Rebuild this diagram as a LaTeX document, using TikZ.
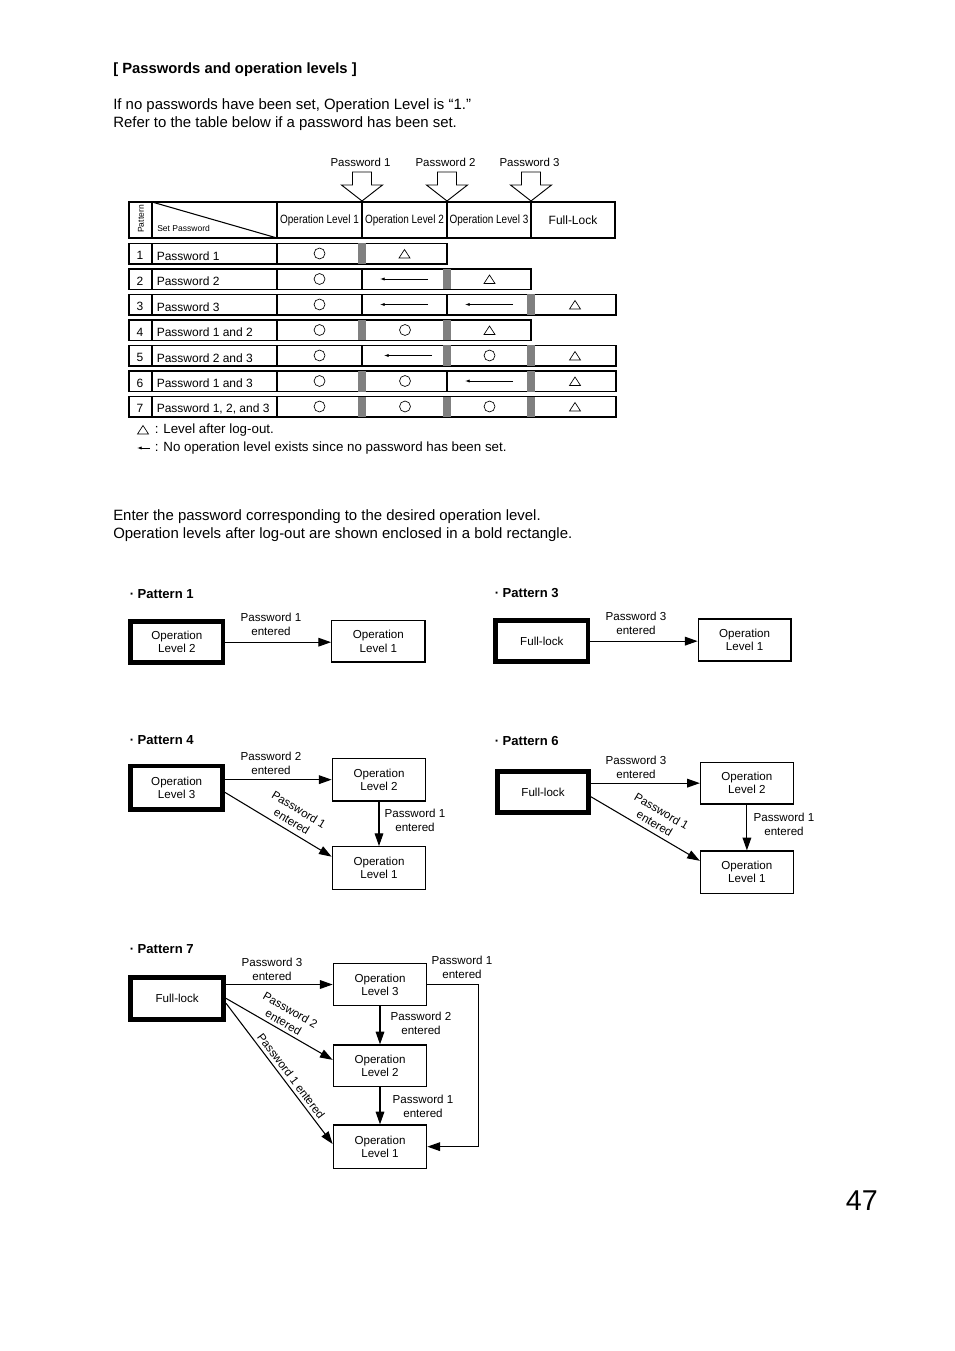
\documentclass[tikz,border=0pt]{standalone}
\usepackage{fontspec}
\setmainfont{Liberation Sans}
\usetikzlibrary{arrows.meta,calc}
\newcommand\myfb{\fontsize{11.2pt}{13.5pt}\selectfont}
\newcommand\myft{\fontsize{9pt}{11pt}\selectfont}
\newcommand\myfd{\fontsize{8.7pt}{10.4pt}\selectfont}
\newcommand\myfx{\fontsize{8.7pt}{9.9pt}\selectfont}
\newcommand\myfp{\bfseries\fontsize{9.8pt}{12pt}\selectfont}
\newcommand\myfs{\fontsize{6.4pt}{7.5pt}\selectfont}
\newcommand\myfn{\fontsize{10pt}{11pt}\selectfont}
\begin{document}
\begin{tikzpicture}[x=0.75pt,y=-0.75pt,
  tline/.style={line width=0.8pt},
  sym/.style={line width=0.5pt},
  sz/.style n args={2}{minimum width=#1*0.75pt, minimum height=#2*0.75pt},
  tbox/.style={draw, line width=1pt, inner sep=0pt, align=center, font=\myfx},
  bbox/.style={draw, line width=3.5pt, inner sep=0pt, align=center, font=\myfx},
  arr/.style={line width=0.8pt, -{Triangle[length=9.5pt,width=6.5pt]}},
  lbl/.style={font=\myfd, align=center, inner sep=1pt},
  pat/.style={font=\myfp, anchor=base west, inner sep=0pt},
  body/.style={font=\myfb, anchor=base west, inner sep=0pt}]
\useasboundingbox[fill=white] (0,0) rectangle (954,1351);

% ---------- texts ----------
\node[font=\bfseries\fontsize{11.1pt}{13pt}\selectfont, anchor=base west, inner sep=0pt] (title) at (113,74) {[ Passwords and operation levels ]};
\node[body] (t1) at (113,110) {If no passwords have been set, Operation Level is “1.”};
\node[body] (t2) at (113,128) {Refer to the table below if a password has been set.};
\node[body] (t3) at (113,520) {Enter the password corresponding to the desired operation level.};
\node[body] (t4) at (113,538) {Operation levels after log-out are shown enclosed in a bold rectangle.};
\node[font=\fontsize{21.5pt}{24pt}\selectfont, anchor=base east, inner sep=0pt] (pg) at (878,1210) {47};

% ---------- table header ----------
\foreach \cx/\t in {362/1,447/2,531/3}{
  \draw[line width=0.7pt, fill=white] (\cx-9.5,172) -- (\cx+9.5,172) -- (\cx+9.5,185) -- (\cx+20.5,185) -- (\cx,201) -- (\cx-20.5,185) -- (\cx-9.5,185) -- cycle;
  \node[font=\fontsize{8.6pt}{10pt}\selectfont] (hp\t) at (\cx-1.5,162) {Password \t};
}
\draw[tline] (129,202) rectangle (615,238);
\foreach \x in {152,277,362,447,531} \draw[tline] (\x,202) -- (\x,238);
\draw[tline] (152,202) -- (277,238);
\node[font=\myfs, rotate=90] (hpat) at (141,219) {Pattern};
\node[font=\myfs, anchor=base west, inner sep=0pt] (hset) at (157,231.5) {Set Password};
\node[font=\myft] (hl1) at (319.5,220) {\scalebox{0.83}[1]{Operation Level 1}};
\node[font=\myft] (hl2) at (404.5,220) {\scalebox{0.83}[1]{Operation Level 2}};
\node[font=\myft] (hl3) at (489,220) {\scalebox{0.83}[1]{Operation Level 3}};
\node[font=\myft] (hfl) at (573,220) {Full-Lock};

% ---------- table rows ----------
\newcommand\trow[4]{%
  \draw[tline] (129,#1) rectangle (#2,#1+20.5);
  \draw[tline] (152,#1) -- (152,#1+20.5);
  \draw[tline] (277,#1) -- (277,#1+20.5);
  \node[font=\myft] (rn#3) at (140,#1+12) {#3};
  \node[font=\myft, anchor=west, inner sep=0pt] (rt#3) at (156.5,#1+12.3) {#4};}
\newcommand\tcirc[2]{\draw[sym] (#1,#2) circle[radius=4.1pt];}
\newcommand\ttri[2]{\draw[sym] (#1-5.5,#2+4) -- (#1+5.5,#2+4) -- (#1,#2-4.5) -- cycle;}
\newcommand\tarr[2]{\draw[line width=0.6pt,-{Latex[length=3.5pt,width=2.4pt]}] (#1+24,#2) -- (#1-24,#2);}
\newcommand\tbar[2]{\fill[black!50] (#1-4,#2) rectangle (#1+4,#2+20.5);}
\newcommand\tdiv[2]{\draw[tline] (#1,#2) -- (#1,#2+20.5);}

\trow{243.5}{447}{1}{Password 1}
\tcirc{319.5}{253.5} \tbar{362}{243.5} \ttri{404.5}{254}

\trow{269}{531}{2}{Password 2}
\tcirc{319.5}{279} \tdiv{362}{269} \tarr{404}{279} \tbar{447}{269} \ttri{489.5}{279.5}

\trow{294.5}{616}{3}{Password 3}
\tcirc{319.5}{304.5} \tdiv{362}{294.5} \tarr{404}{304.5} \tdiv{447}{294.5} \tarr{489}{304.5} \tbar{531}{294.5} \ttri{575}{305}

\trow{320}{531}{4}{Password 1 and 2}
\tcirc{319.5}{330} \tbar{362}{320} \tcirc{405}{330} \tbar{447}{320} \ttri{489.5}{330.5}

\trow{345.5}{616}{5}{Password 2 and 3}
\tcirc{319.5}{355.5} \tdiv{362}{345.5} \tarr{408}{355.5} \tbar{447}{345.5} \tcirc{489.5}{355.5} \tbar{531}{345.5} \ttri{575}{356}

\trow{371}{616}{6}{Password 1 and 3}
\tcirc{319.5}{381} \tbar{362}{371} \tcirc{405}{381} \tdiv{447}{371} \tarr{489}{381} \tbar{531}{371} \ttri{575}{381.5}

\trow{396.5}{616}{7}{Password 1, 2, and 3}
\tcirc{319.5}{406.5} \tbar{362}{396.5} \tcirc{405}{406.5} \tbar{447}{396.5} \tcirc{489.5}{406.5} \tbar{531}{396.5} \ttri{575}{407}

% footnotes
\ttri{143}{430}
\node[font=\myfn, anchor=west, inner sep=0pt] (fn1) at (154.5,430.5) {: Level after log-out.};
\draw[line width=0.6pt,-{Latex[length=3.5pt,width=2.4pt]}] (150,448) -- (137,448);
\node[font=\myfn, anchor=west, inner sep=0pt] (fn2) at (154.5,448.5) {: No operation level exists since no password has been set.};

% ---------- Pattern 1 ----------
\node[pat] (p1t) at (129.5,598.5) {· Pattern 1};
\node[bbox, sz={92.3}{41}] (p1a) at (176.85,642.2) {Operation\\Level 2};
\node[tbox, sz={93.3}{41.3}] (p1b) at (378.35,641.35) {Operation\\Level 1};
\draw[arr] (p1a.east) -- (p1a.east -| p1b.west);
\node[lbl] (p1l) at (271,624) {Password 1\\entered};

% ---------- Pattern 3 ----------
\node[pat] (p3t) at (494.5,597.5) {· Pattern 3};
\node[bbox, sz={92.4}{41.1}] (p3a) at (541.8,641.15) {Full-lock};
\node[tbox, sz={92.7}{42}] (p3b) at (744.65,640) {Operation\\Level 1};
\draw[arr] (p3a.east) -- (p3a.east -| p3b.west);
\node[lbl] (p3l) at (636,623) {Password 3\\entered};

% ---------- Pattern 4 ----------
\node[pat] (p4t) at (129.5,744.5) {· Pattern 4};
\node[bbox, sz={92}{43.5}] (p4a) at (176.7,787.75) {Operation\\Level 3};
\node[tbox, sz={93.4}{42.7}] (p4b) at (379,779.65) {Operation\\Level 2};
\node[tbox, sz={93.4}{42.6}] (p4c) at (379,868) {Operation\\Level 1};
\draw[arr] (p4a.east |- p4b.west) -- (p4b.west);
\draw[arr] ([yshift=-3.5pt]p4a.east) -- node[lbl, sloped, above=2.5pt, pos=0.58] (p4d) {Password 1\\entered} ([yshift=8.5pt]p4c.west);
\draw[arr] (p4b.south) -- (p4c.north);
\node[lbl] (p4l1) at (271,763) {Password 2\\entered};
\node[lbl] (p4l2) at (415,820) {Password 1\\entered};

% ---------- Pattern 6 ----------
\node[pat] (p6t) at (494.5,745.5) {· Pattern 6};
\node[bbox, sz={91.4}{41.1}] (p6a) at (543,792.15) {Full-lock};
\node[tbox, sz={92.8}{41.7}] (p6b) at (746.9,783.15) {Operation\\Level 2};
\node[tbox, sz={92.8}{42.3}] (p6c) at (746.9,872.15) {Operation\\Level 1};
\draw[arr] (p6a.east |- p6b.west) -- (p6b.west);
\draw[arr] ([yshift=-3.5pt]p6a.east) -- node[lbl, sloped, above=2.5pt, pos=0.54] (p6d) {Password 1\\entered} ([yshift=8.5pt]p6c.west);
\draw[arr] (p6b.south) -- (p6c.north);
\node[lbl] (p6l1) at (636,767) {Password 3\\entered};
\node[lbl] (p6l2) at (784,824) {Password 1\\entered};

% ---------- Pattern 7 ----------
\node[pat] (p7t) at (129.5,953.5) {· Pattern 7};
\node[bbox, sz={93}{42.1}] (p7f) at (177.2,998.35) {Full-lock};
\node[tbox, sz={93.4}{42.4}] (p7c) at (380,984.5) {Operation\\Level 3};
\node[tbox, sz={93.4}{41.7}] (p7b) at (380,1065.85) {Operation\\Level 2};
\node[tbox, sz={93.4}{43.3}] (p7a) at (380,1146.65) {Operation\\Level 1};
\draw[arr] (p7f.east |- p7c.west) -- (p7c.west);
\draw[arr] (p7f.east) -- node[lbl, sloped, above=1.5pt, pos=0.5] (p7d1) {Password 2\\entered} ([yshift=4.5pt]p7b.west);
\draw[arr] ([yshift=-3.7pt]p7f.east) -- node[lbl, sloped, above=1.5pt, pos=0.55] (p7d2) {Password 1 entered} ([yshift=2pt]p7a.west);
\draw[arr] (p7c.south) -- (p7b.north);
\draw[arr] (p7b.south) -- (p7a.north);
\draw[arr] (p7c.east) -- ++(51,0) |- (p7a.east);
\node[lbl] (p7l1) at (272,969) {Password 3\\entered};
\node[lbl] (p7l2) at (462,967) {Password 1\\entered};
\node[lbl] (p7l3) at (421,1023) {Password 2\\entered};
\node[lbl] (p7l4) at (423,1106) {Password 1\\entered};
\end{tikzpicture}
\end{document}
